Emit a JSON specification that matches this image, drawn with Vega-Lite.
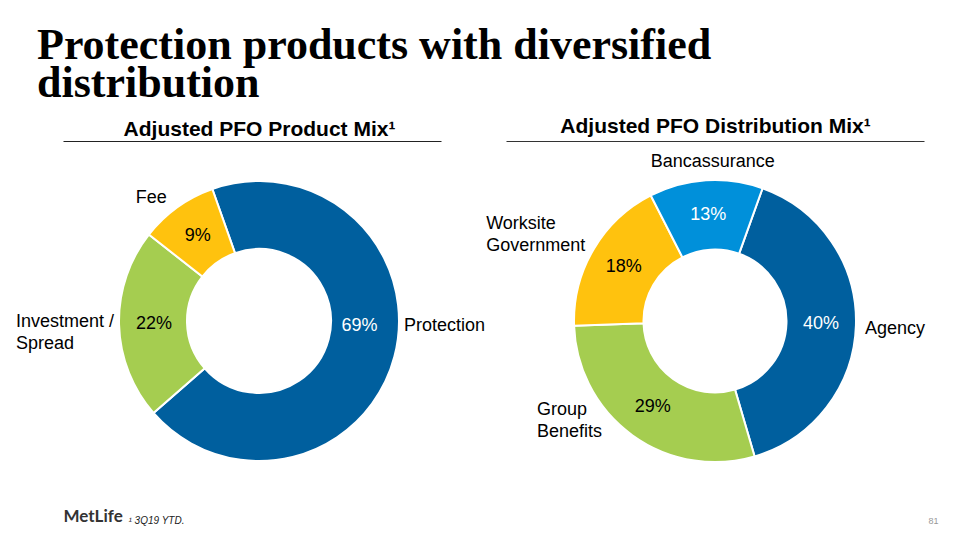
{
  "$schema": "https://vega.github.io/schema/vega-lite/v6.json",
  "background": "white",
  "padding": {"top": 23, "left": 16, "right": 10, "bottom": 8},
  "autosize": {"type": "pad"},
  "title": {
    "text": ["Protection products with diversified", "distribution"],
    "anchor": "start",
    "frame": "group",
    "dx": -26,
    "offset": 4,
    "font": "Liberation Serif",
    "fontSize": 44,
    "fontWeight": "bold",
    "color": "#000000",
    "lineHeight": 38
  },
  "config": {
    "view": {"stroke": null},
    "text": {"font": "Liberation Sans", "fontSize": 18}
  },
  "datasets": {
    "product": [
      {"category": "Protection", "seq": 1, "value": 0.69},
      {"category": "Investment /\nSpread", "seq": 2, "value": 0.22},
      {"category": "Fee", "seq": 3, "value": 0.09}
    ],
    "distribution": [
      {"category": "Agency", "seq": 1, "value": 0.40},
      {"category": "Group\nBenefits", "seq": 2, "value": 0.29},
      {"category": "Worksite\nGovernment", "seq": 3, "value": 0.18},
      {"category": "Bancassurance", "seq": 4, "value": 0.13}
    ]
  },
  "spacing": 51,
  "bounds": "flush",
  "hconcat": [
    {
      "width": 392,
      "height": 360,
      "data": {"name": "product"},
      "layer": [
        {
          "mark": {"type": "rule", "opacity": 0},
          "encoding": {
            "x": {
              "datum": 0, "type": "quantitative",
              "scale": {"domain": [0, 1], "range": [0, 378]},
              "axis": {
                "orient": "top", "title": "Adjusted PFO Product Mix¹",
                "titleFont": "Liberation Sans", "titleFontSize": 21, "titleFontWeight": "bold",
                "titleColor": "#000000", "titleX": 196, "titleAlign": "center",
                "titleBaseline": "alphabetic", "titlePadding": 6,
                "labels": false, "ticks": false, "grid": false,
                "domain": true, "domainColor": "#222222", "domainWidth": 1.2
              }
            }
          }
        },
        {
          "mark": {"type": "rule", "opacity": 0},
          "encoding": {
            "x": {
              "datum": 0, "type": "quantitative",
              "scale": {"domain": [0, 1]},
              "axis": {
                "orient": "bottom", "values": [0], "labelExpr": "'MetLife'",
                "labelAlign": "left", "labelFont": "Lato", "labelFontWeight": "bold",
                "labelFontSize": 17, "labelColor": "#333333", "labelPadding": 15,
                "labelBaseline": "middle",
                "ticks": false, "grid": false, "domain": false,
                "title": "¹ 3Q19 YTD.", "titleFont": "Liberation Sans",
                "titleFontStyle": "italic", "titleFontWeight": "normal", "titleFontSize": 10,
                "titleColor": "#222222", "titleAnchor": "start", "titleAlign": "left",
                "titleX": 65, "titleY": 22, "titleBaseline": "alphabetic"
              }
            }
          }
        },
        {
          "mark": {"type": "arc", "innerRadius": 72, "outerRadius": 140, "stroke": "white", "strokeWidth": 2},
          "encoding": {
            "theta": {"field": "value", "type": "quantitative", "stack": true,
              "scale": {"domain": [0, 1], "range": [-0.34, 5.9432]}},
            "order": {"field": "seq", "type": "quantitative"},
            "color": {"field": "category", "type": "nominal", "legend": null,
              "scale": {
                "domain": ["Protection", "Investment /\nSpread", "Fee", "Agency", "Group\nBenefits", "Worksite\nGovernment", "Bancassurance"],
                "range": ["#005F9E", "#A5CD50", "#FFC20E", "#005F9E", "#A5CD50", "#FFC20E", "#0090DA"]
              }}
          }
        },
        {
          "mark": {"type": "text", "radius": 105, "align": "center", "baseline": "middle", "fontSize": 18},
          "encoding": {
            "theta": {"field": "value", "type": "quantitative", "stack": true,
              "scale": {"domain": [0, 1], "range": [-0.34, 5.9432]}},
            "order": {"field": "seq", "type": "quantitative"},
            "detail": {"field": "category"},
            "text": {"condition": {"test": "datum.seq === 1", "value": ""}, "field": "value", "format": ".0%"},
            "color": {"value": "#000000"}
          }
        },
        {
          "mark": {"type": "text", "radius": 104, "dy": -21, "align": "center", "baseline": "middle", "fontSize": 18},
          "encoding": {
            "theta": {"field": "value", "type": "quantitative", "stack": true,
              "scale": {"domain": [0, 1], "range": [-0.34, 5.9432]}},
            "order": {"field": "seq", "type": "quantitative"},
            "detail": {"field": "category"},
            "text": {"condition": {"test": "datum.seq === 1", "field": "value", "format": ".0%"}, "value": ""},
            "color": {"value": "#ffffff"}
          }
        },
        {
          "mark": {"type": "text", "radius": 150, "dy": -33, "align": "left", "baseline": "middle", "fontSize": 18},
          "encoding": {
            "theta": {"field": "value", "type": "quantitative", "stack": true,
              "scale": {"domain": [0, 1], "range": [-0.34, 5.9432]}},
            "order": {"field": "seq", "type": "quantitative"},
            "detail": {"field": "category"},
            "text": {"condition": {"test": "datum.seq === 1", "field": "category"}, "value": ""},
            "color": {"value": "#000000"}
          }
        },
        {
          "mark": {"type": "text", "radius": 243, "dy": -5, "align": "left", "baseline": "middle", "fontSize": 18, "lineBreak": "\n", "lineHeight": 22},
          "encoding": {
            "theta": {"field": "value", "type": "quantitative", "stack": true,
              "scale": {"domain": [0, 1], "range": [-0.34, 5.9432]}},
            "order": {"field": "seq", "type": "quantitative"},
            "detail": {"field": "category"},
            "text": {"condition": {"test": "datum.seq === 2", "field": "category"}, "value": ""},
            "color": {"value": "#000000"}
          }
        },
        {
          "mark": {"type": "text", "radius": 164, "dx": -12, "dy": 10, "align": "center", "baseline": "middle", "fontSize": 18},
          "encoding": {
            "theta": {"field": "value", "type": "quantitative", "stack": true,
              "scale": {"domain": [0, 1], "range": [-0.34, 5.9432]}},
            "order": {"field": "seq", "type": "quantitative"},
            "detail": {"field": "category"},
            "text": {"condition": {"test": "datum.seq === 3", "field": "category"}, "value": ""},
            "color": {"value": "#000000"}
          }
        }
      ],
      "resolve": {"scale": {"x": "independent"}, "axis": {"x": "independent"}}
    },
    {
      "width": 418,
      "height": 360,
      "data": {"name": "distribution"},
      "layer": [
        {
          "mark": {"type": "rule", "opacity": 0},
          "encoding": {
            "x": {
              "datum": 0, "type": "quantitative",
              "scale": {"domain": [0, 1]},
              "axis": {
                "orient": "top", "title": "Adjusted PFO Distribution Mix¹",
                "titleFont": "Liberation Sans", "titleFontSize": 21, "titleFontWeight": "bold",
                "titleColor": "#000000",
                "titleBaseline": "alphabetic", "titlePadding": 9,
                "labels": false, "ticks": false, "grid": false,
                "domain": true, "domainColor": "#333333", "domainWidth": 1.2
              }
            }
          }
        },
        {
          "mark": {"type": "rule", "opacity": 0},
          "encoding": {
            "x": {
              "datum": 0, "type": "quantitative",
              "scale": {"domain": [0, 1]},
              "axis": {
                "orient": "bottom", "labels": false, "ticks": false, "grid": false, "domain": false,
                "title": "81", "titleFont": "Liberation Sans", "titleFontWeight": "normal",
                "titleFontSize": 9, "titleColor": "#999999", "titleAlign": "right",
                "titleX": 432, "titleY": 22, "titleBaseline": "alphabetic"
              }
            }
          }
        },
        {
          "mark": {"type": "arc", "innerRadius": 71.5, "outerRadius": 141, "stroke": "white", "strokeWidth": 2},
          "encoding": {
            "theta": {"field": "value", "type": "quantitative", "stack": true,
              "scale": {"domain": [0, 1], "range": [0.344, 6.6272]}},
            "order": {"field": "seq", "type": "quantitative"},
            "color": {"field": "category", "type": "nominal", "legend": null,
              "scale": {
                "domain": ["Protection", "Investment /\nSpread", "Fee", "Agency", "Group\nBenefits", "Worksite\nGovernment", "Bancassurance"],
                "range": ["#005F9E", "#A5CD50", "#FFC20E", "#005F9E", "#A5CD50", "#FFC20E", "#0090DA"]
              }}
          }
        },
        {
          "mark": {"type": "text", "radius": 106, "align": "center", "baseline": "middle", "fontSize": 18},
          "encoding": {
            "theta": {"field": "value", "type": "quantitative", "stack": true,
              "scale": {"domain": [0, 1], "range": [0.344, 6.6272]}},
            "order": {"field": "seq", "type": "quantitative"},
            "detail": {"field": "category"},
            "text": {"field": "value", "format": ".0%"},
            "color": {"condition": {"test": "datum.seq === 1 || datum.seq === 4", "value": "#ffffff"}, "value": "#000000"}
          }
        },
        {
          "mark": {"type": "text", "radius": 150, "dy": 4, "align": "left", "baseline": "middle", "fontSize": 18},
          "encoding": {
            "theta": {"field": "value", "type": "quantitative", "stack": true,
              "scale": {"domain": [0, 1], "range": [0.344, 6.6272]}},
            "order": {"field": "seq", "type": "quantitative"},
            "detail": {"field": "category"},
            "text": {"condition": {"test": "datum.seq === 1", "field": "category"}, "value": ""},
            "color": {"value": "#000000"}
          }
        },
        {
          "mark": {"type": "text", "radius": 150, "dx": -90, "dy": -32, "align": "left", "baseline": "middle", "fontSize": 18, "lineBreak": "\n", "lineHeight": 22},
          "encoding": {
            "theta": {"field": "value", "type": "quantitative", "stack": true,
              "scale": {"domain": [0, 1], "range": [0.344, 6.6272]}},
            "order": {"field": "seq", "type": "quantitative"},
            "detail": {"field": "category"},
            "text": {"condition": {"test": "datum.seq === 2", "field": "category"}, "value": ""},
            "color": {"value": "#000000"}
          }
        },
        {
          "mark": {"type": "text", "radius": 160, "dx": -91, "dy": -16, "align": "left", "baseline": "middle", "fontSize": 18, "lineBreak": "\n", "lineHeight": 22},
          "encoding": {
            "theta": {"field": "value", "type": "quantitative", "stack": true,
              "scale": {"domain": [0, 1], "range": [0.344, 6.6272]}},
            "order": {"field": "seq", "type": "quantitative"},
            "detail": {"field": "category"},
            "text": {"condition": {"test": "datum.seq === 3", "field": "category"}, "value": ""},
            "color": {"value": "#000000"}
          }
        },
        {
          "mark": {"type": "text", "radius": 159, "dx": 8, "align": "center", "baseline": "middle", "fontSize": 18},
          "encoding": {
            "theta": {"field": "value", "type": "quantitative", "stack": true,
              "scale": {"domain": [0, 1], "range": [0.344, 6.6272]}},
            "order": {"field": "seq", "type": "quantitative"},
            "detail": {"field": "category"},
            "text": {"condition": {"test": "datum.seq === 4", "field": "category"}, "value": ""},
            "color": {"value": "#000000"}
          }
        }
      ],
      "resolve": {"scale": {"x": "independent"}, "axis": {"x": "independent"}}
    }
  ]
}
